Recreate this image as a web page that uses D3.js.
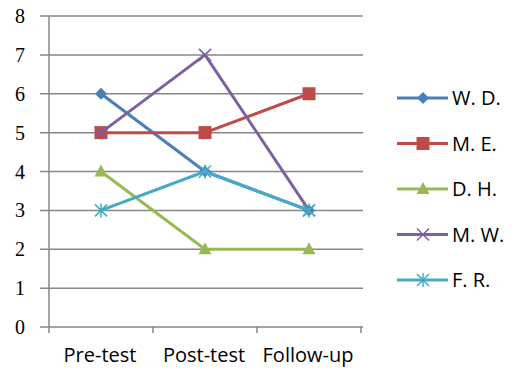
<!DOCTYPE html>
<html>
<head>
<meta charset="utf-8">
<script src="https://cdn.jsdelivr.net/npm/d3@7"></script>
<style>
  html, body { margin: 0; padding: 0; background: #fff; }
  svg { display: block; font-family: "Open Sans", Lato, sans-serif; }
</style>
</head>
<body>
<svg id="chart" width="515" height="374"></svg>
<script>
// Assessment scores across the three time points
const categories = ["Pre-test", "Post-test", "Follow-up"];
const yTicks = [0, 1, 2, 3, 4, 5, 6, 7, 8];
const names = ["W. D.", "M. E.", "D. H.", "M. W.", "F. R."];
const wd = [6, 4, 3];
const me = [5, 5, 6];
const dh = [4, 2, 2];
const mw = [5, 7, 3];
const fr = [3, 4, 3];

const seriesValues = [wd, me, dh, mw, fr];
const colors = ["#4a7ebb", "#be4b48", "#98b954", "#7d60a0", "#46aac5"];
const markers = ["diamond", "square", "triangle", "cross", "star"];

const svg = d3.select("#chart");
const plot = { left: 49, right: 361, top: 16, bottom: 327 };

const x = d3.scaleBand().domain(categories).range([plot.left, plot.right]);
const y = d3.scaleLinear().domain([0, 8]).range([plot.bottom, plot.top]);

// horizontal gridlines
svg.append("g").selectAll("line").data(yTicks).join("line")
  .attr("x1", plot.left - 9).attr("x2", plot.right + 2)
  .attr("y1", d => y(d)).attr("y2", d => y(d))
  .attr("stroke", "#868686").attr("stroke-width", 1.5);

// y axis line
svg.append("line")
  .attr("x1", plot.left).attr("x2", plot.left)
  .attr("y1", plot.top).attr("y2", plot.bottom + 6)
  .attr("stroke", "#868686").attr("stroke-width", 1.5);

// category tick marks
const boundaries = categories.map(c => x(c) + x.bandwidth());
svg.append("g").selectAll("line").data(boundaries).join("line")
  .attr("x1", d => d).attr("x2", d => d)
  .attr("y1", plot.bottom).attr("y2", plot.bottom + 6)
  .attr("stroke", "#868686").attr("stroke-width", 1.5);

// y tick labels
svg.append("g").selectAll("text").data(yTicks).join("text")
  .attr("x", 25).attr("y", d => y(d))
  .attr("dy", "0.35em")
  .attr("text-anchor", "end")
  .attr("font-family", "'Liberation Serif', serif")
  .attr("font-size", 20)
  .attr("fill", "#000")
  .text(d => d);

// category labels
svg.append("g").selectAll("text").data(categories).join("text")
  .attr("x", c => x(c) + x.bandwidth() / 2 - 1)
  .attr("y", 362)
  .attr("text-anchor", "middle")
  .attr("font-size", 20)
  .attr("fill", "#000")
  .text(c => c);

function drawMarker(g, type, color, cx, cy) {
  if (type === "diamond") {
    g.append("path")
      .attr("d", `M${cx},${cy - 6}L${cx + 6},${cy}L${cx},${cy + 6}L${cx - 6},${cy}Z`)
      .attr("fill", color);
  } else if (type === "square") {
    g.append("rect")
      .attr("x", cx - 6.5).attr("y", cy - 6.5)
      .attr("width", 13).attr("height", 13)
      .attr("fill", color);
  } else if (type === "triangle") {
    g.append("path")
      .attr("d", `M${cx},${cy - 7}L${cx + 6.5},${cy + 5}L${cx - 6.5},${cy + 5}Z`)
      .attr("fill", color);
  } else if (type === "cross") {
    g.append("path")
      .attr("d", `M${cx - 6},${cy - 6}L${cx + 6},${cy + 6}M${cx - 6},${cy + 6}L${cx + 6},${cy - 6}`)
      .attr("stroke", color).attr("stroke-width", 1.5).attr("fill", "none");
  } else if (type === "star") {
    g.append("path")
      .attr("d", `M${cx - 6},${cy - 6}L${cx + 6},${cy + 6}M${cx - 6},${cy + 6}L${cx + 6},${cy - 6}M${cx},${cy - 7}L${cx},${cy + 7}`)
      .attr("stroke", color).attr("stroke-width", 1.5).attr("fill", "none");
  }
}

const line = d3.line()
  .x((d, i) => x(categories[i]) + x.bandwidth() / 2)
  .y(d => y(d));

// series lines and markers
seriesValues.forEach((vals, s) => {
  const g = svg.append("g");
  g.append("path")
    .attr("d", line(vals))
    .attr("fill", "none")
    .attr("stroke", colors[s])
    .attr("stroke-width", 3)
    .attr("stroke-linejoin", "round");
  vals.forEach((v, i) => {
    drawMarker(g, markers[s], colors[s], x(categories[i]) + x.bandwidth() / 2, y(v));
  });
});

// legend
const legend = svg.append("g");
names.forEach((name, s) => {
  const ly = 98 + s * 45.5;
  legend.append("line")
    .attr("x1", 397).attr("x2", 448)
    .attr("y1", ly).attr("y2", ly)
    .attr("stroke", colors[s]).attr("stroke-width", 3);
  drawMarker(legend, markers[s], colors[s], 423, ly);
  legend.append("text")
    .attr("x", 452).attr("y", ly)
    .attr("dy", "0.36em")
    .attr("font-size", 20)
    .attr("fill", "#000")
    .text(name);
});
</script>
</body>
</html>
